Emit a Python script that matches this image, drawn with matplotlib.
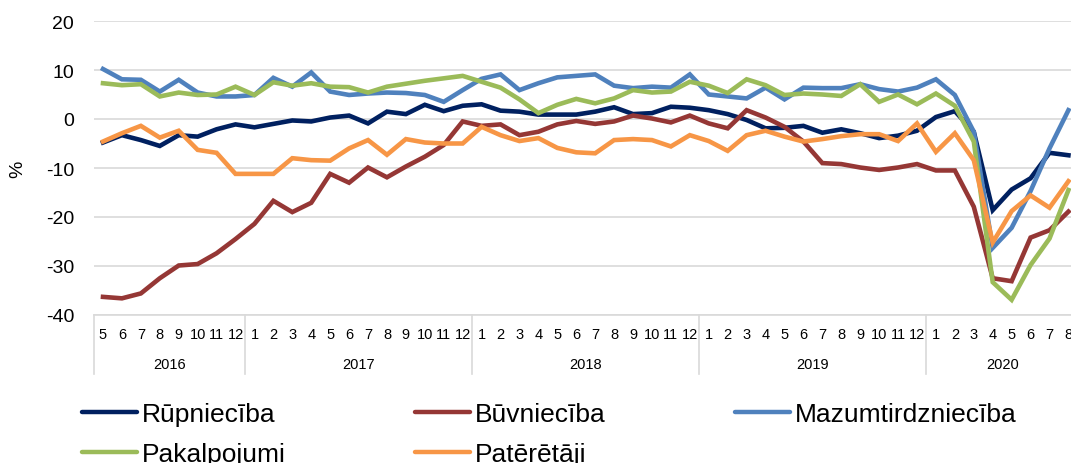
import matplotlib
matplotlib.use("Agg")
import matplotlib.pyplot as plt
from matplotlib.lines import Line2D

plt.rcParams['font.family'] = ['Liberation Sans', 'DejaVu Sans']
plt.rcParams['axes.unicode_minus'] = False

years = ['2016', '2017', '2018', '2019', '2020']
year_months = [list(range(5, 13)), list(range(1, 13)), list(range(1, 13)), list(range(1, 13)), list(range(1, 9))]
month_labels = [str(m) for ms in year_months for m in ms]

rupnieciba = [-4.8, -3.3, -4.3, -5.5, -3.3, -3.6, -2.1, -1.1, -1.7, -1.0, -0.3, -0.5, 0.3, 0.7, -0.9, 1.5, 1.0,
              2.9, 1.6, 2.7, 3.0, 1.7, 1.5, 0.9, 0.9, 0.9, 1.5, 2.4, 1.0, 1.2, 2.5, 2.3, 1.8, 1.0,
              -0.2, -1.9, -1.8, -1.4, -2.8, -2.1, -2.9, -3.9, -3.4, -2.4, 0.4, 1.6, -2.6, -18.6, -14.4, -12.1, -6.9, -7.4]
buvnieciba = [-36.3, -36.6, -35.6, -32.5, -29.9, -29.6, -27.4, -24.5, -21.4, -16.7, -19.0, -17.1, -11.2, -13.0, -9.9, -11.9, -9.7,
              -7.7, -5.3, -0.5, -1.4, -1.1, -3.3, -2.6, -1.1, -0.4, -1.0, -0.5, 0.7, 0.1, -0.7, 0.7, -0.9, -1.9,
              1.8, 0.3, -1.6, -4.6, -9.0, -9.2, -9.9, -10.4, -9.9, -9.2, -10.5, -10.5, -17.9, -32.5, -33.1, -24.2, -22.7, -18.9]
mazumtirdznieciba = [10.2, 8.1, 8.0, 5.6, 8.0, 5.4, 4.6, 4.6, 4.9, 8.4, 6.6, 9.5, 5.6, 4.9, 5.2, 5.4, 5.3,
                     4.9, 3.5, 5.9, 8.2, 9.1, 5.9, 7.3, 8.5, 8.8, 9.1, 6.8, 6.3, 6.6, 6.4, 9.1, 5.0, 4.6,
                     4.2, 6.4, 4.0, 6.4, 6.3, 6.3, 7.1, 6.1, 5.6, 6.4, 8.1, 4.9, -2.6, -26.3, -22.2, -14.7, -6.0, 1.8]
pakalpojumi = [7.3, 6.9, 7.1, 4.6, 5.4, 4.9, 5.0, 6.6, 4.9, 7.5, 6.8, 7.3, 6.6, 6.5, 5.4, 6.6, 7.2,
               7.8, 8.3, 8.8, 7.6, 6.4, 4.0, 1.2, 2.9, 4.1, 3.2, 4.2, 5.9, 5.4, 5.6, 7.6, 6.8, 5.3,
               8.1, 6.9, 4.9, 5.2, 5.0, 4.7, 7.1, 3.5, 5.0, 3.0, 5.2, 2.7, -4.6, -33.3, -36.9, -29.8, -24.4, -14.5]
pateretaji = [-4.6, -2.9, -1.4, -3.8, -2.4, -6.3, -6.9, -11.2, -11.2, -11.2, -8.0, -8.4, -8.5, -6.0, -4.3, -7.3, -4.1,
              -4.8, -5.0, -5.0, -1.6, -3.3, -4.5, -3.9, -5.9, -6.8, -7.0, -4.3, -4.1, -4.3, -5.6, -3.3, -4.5, -6.5,
              -3.3, -2.4, -3.6, -4.6, -4.1, -3.5, -3.1, -3.1, -4.5, -0.9, -6.7, -2.9, -8.4, -25.2, -18.8, -15.6, -18.1, -12.7]

series = [
    ('Rūpniecība', rupnieciba, '#002060'),
    ('Būvniecība', buvnieciba, '#953735'),
    ('Mazumtirdzniecība', mazumtirdznieciba, '#4F81BD'),
    ('Pakalpojumi', pakalpojumi, '#9BBB59'),
    ('Patērētāji', pateretaji, '#F79646'),
]

W, H = 1071, 464
fig = plt.figure(figsize=(W / 100, H / 100), dpi=100)
step = 18.93
left_px = 103 - step / 2
ax_w_px = 52 * step
ax = fig.add_axes([left_px / W, (H - 316) / H, ax_w_px / W, 294 / H])

x = list(range(len(month_labels)))
handles = {}
for name, vals, col in series:
    (ln,) = ax.plot(x, vals, color=col, lw=3.3, label=name, solid_joinstyle='miter', zorder=3)
    handles[name] = ln

ax.set_xlim(-0.5, len(month_labels) - 0.5)
ax.set_ylim(-40, 20)
ax.set_yticks(range(-40, 21, 10))
ax.tick_params(axis='y', length=0, labelsize=14, pad=14)
ax.set_xticks(x)
ax.set_xticklabels(month_labels)
ax.tick_params(axis='x', length=0, labelsize=10.5, pad=9)
ax.grid(axis='y', color='#D9D9D9', lw=1.2, zorder=0)
for s in ['top', 'right', 'left']:
    ax.spines[s].set_visible(False)
ax.spines['bottom'].set_color('#D9D9D9')
ax.spines['bottom'].set_linewidth(1.2)
ax.set_ylabel('%', fontsize=14)
ax.yaxis.set_label_coords(-(left_px - 26) / ax_w_px, 0.5)

# year group labels and separators
trans = ax.get_xaxis_transform()
pos = 0
sep_len = 59 / 294
ax.plot([-0.5, -0.5], [0, -sep_len], transform=trans, color='#D9D9D9', lw=1.2, clip_on=False)
for yr, ms in zip(years, year_months):
    n = len(ms)
    center = pos + (n - 1) / 2
    ax.annotate(yr, xy=(center, 0), xycoords=trans, xytext=(0, -49), textcoords='offset pixels',
                ha='center', va='center', fontsize=10.5)
    pos += n
    ax.plot([pos - 0.5, pos - 0.5], [0, -sep_len], transform=trans, color='#D9D9D9', lw=1.2, clip_on=False)

order = ['Rūpniecība', 'Pakalpojumi', 'Būvniecība', 'Patērētāji', 'Mazumtirdzniecība']
leg_handles = [Line2D([], [], color=handles[n].get_color(), lw=3.2, solid_capstyle='round') for n in order]
fig.legend(leg_handles, order, loc='upper left', bbox_to_anchor=(82 / W, 1 - 403 / H), ncol=3,
           frameon=False, fontsize=19, handlelength=2.08, handletextpad=0.2, columnspacing=4.89,
           labelspacing=0.61, borderpad=0, borderaxespad=0)

fig.savefig('out.png', dpi=100)
